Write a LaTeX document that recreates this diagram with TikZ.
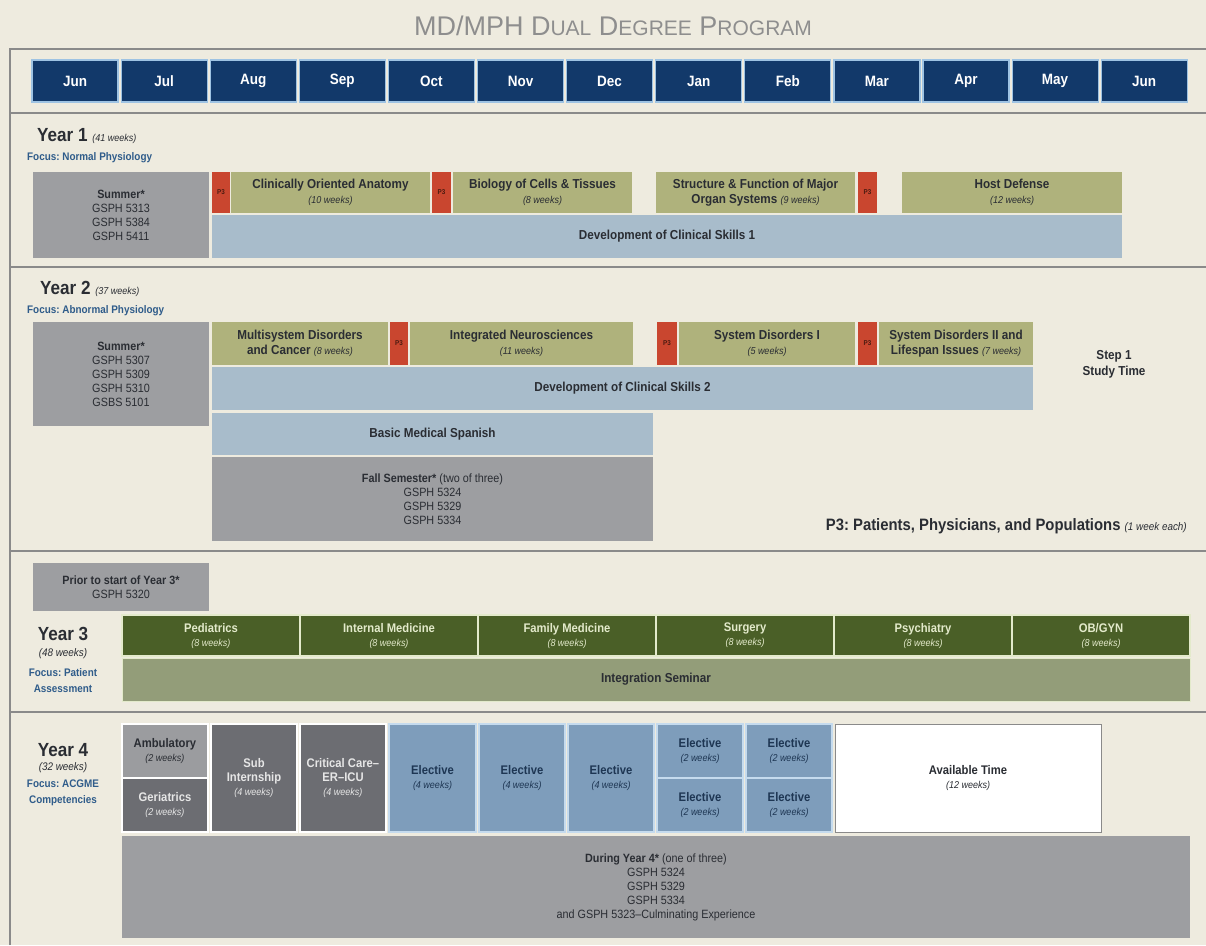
\documentclass[tikz,border=0pt]{standalone}
\usepackage{fontspec}
\setmainfont{Liberation Sans}[FakeStretch=0.9]
\newfontfamily\titlefont{Liberation Sans}
\definecolor{bgc}{HTML}{EEEBDF}
\definecolor{navy}{HTML}{12396A}
\definecolor{mlb}{HTML}{9EC3E3}
\definecolor{gryc}{HTML}{9D9EA1}
\definecolor{txt}{HTML}{2A2D33}
\definecolor{p3red}{HTML}{C9462F}
\definecolor{p3txt}{HTML}{4A1A10}
\definecolor{crsc}{HTML}{AFB27C}
\definecolor{dcsc}{HTML}{A8BCCB}
\definecolor{rotc}{HTML}{4A5F27}
\definecolor{rottxt}{HTML}{E3EACB}
\definecolor{semc}{HTML}{939D79}
\definecolor{dgc}{HTML}{6C6D72}
\definecolor{dgtxt}{HTML}{E6E6E6}
\definecolor{lgc}{HTML}{9B9C9F}
\definecolor{elc}{HTML}{7E9DBB}
\definecolor{eltxt}{HTML}{1E3653}
\definecolor{focusc}{HTML}{2F5C8A}
\definecolor{framec}{HTML}{8A8A8A}
\definecolor{titlec}{HTML}{8E8E8E}
\frenchspacing
\newcommand\fsz[2]{\fontsize{#1}{#2}\selectfont}
\newcommand\wk[1]{{\mdseries\itshape\fsz{10}{11}(#1)}}
\newcommand\smc[1]{{\fsz{21}{24}#1}}
\newcommand\mybox[7]{\node[#6, minimum width={#4pt-#2pt}, minimum height={#5pt-#3pt}] (#1) at ({(#2+#4)/2},{(#3+#5)/2}) {#7};}
\tikzset{
  bx/.style={inner sep=0pt, outer sep=0pt, align=center, text=txt, font=\fsz{13}{15}\bfseries},
  mon/.style={bx, fill=navy, draw=mlb, line width=1.2pt, text=white, font=\fsz{15}{17}\bfseries},
  gbox/.style={bx, fill=gryc, font=\fsz{12}{14}},
  p3box/.style={bx, fill=p3red, text=p3txt, font=\fsz{7}{8}\bfseries},
  crs/.style={bx, fill=crsc},
  dcs/.style={bx, fill=dcsc},
  rot/.style={bx, fill=rotc, draw=rottxt, line width=1.2pt, text=rottxt, font=\fsz{12.5}{14}\bfseries},
  sem/.style={bx, fill=semc, draw=rottxt, line width=1pt},
  dg/.style={bx, fill=dgc, draw=white, line width=1.2pt, text=dgtxt, font=\fsz{12.5}{14}\bfseries},
  lg/.style={bx, fill=lgc, draw=white, line width=1.2pt, font=\fsz{12.5}{14}\bfseries},
  el/.style={bx, fill=elc, draw=mlb!60!white, line width=1.2pt, text=eltxt, font=\fsz{12.5}{14}\bfseries},
  av/.style={bx, fill=white, draw=framec, line width=0.8pt, font=\fsz{12.5}{14}\bfseries},
  frame/.style={draw=framec, line width=1.6pt},
  yr/.style={inner sep=0pt, text=txt, font=\fsz{19}{22}\bfseries},
  foc/.style={inner sep=0pt, text=focusc, font=\fsz{11}{13}\bfseries},
  wkl/.style={inner sep=0pt, text=txt, font=\fsz{11}{13}\itshape},
}
\begin{document}
\begin{tikzpicture}[x=1pt,y=-1pt]
\useasboundingbox (0,0) rectangle (1206,945);
\fill[bgc] (0,0) rectangle (1206,945);
% title
\node[inner sep=0pt, text=titlec, font=\titlefont\fsz{27}{30}] (title) at (613,26)
  {MD/MPH D\smc{UAL} D\smc{EGREE} P\smc{ROGRAM}};
% frame
\draw[frame] (10,945) -- (10,49) -- (1206,49);
\draw[frame] (10,113) -- (1206,113);
\draw[frame] (10,267) -- (1206,267);
\draw[frame] (10,551) -- (1206,551);
\draw[frame] (10,712) -- (1206,712);
% months
\foreach \m [count=\i from 0] in {Jun,Jul,Aug,Sep,Oct,Nov,Dec,Jan,Feb,Mar,Apr,May,Jun}
  \node[mon, minimum width=86pt, minimum height=42pt] (m\i) at ({75+89.1*\i},81) {\m};

% ---------- Year 1
\node[yr, anchor=base west] (y1) at (37,141) {Year 1 {\mdseries\itshape\fsz{10}{12}(41 weeks)}};
\node[foc, anchor=base west] (f1) at (27,160) {Focus: Normal Physiology};
\mybox{s1}{33}{172}{209}{258}{gbox}{\textbf{Summer*}\\GSPH 5313\\GSPH 5384\\GSPH 5411}
\mybox{p1a}{212}{172}{230}{213}{p3box}{P3}
\mybox{ca}{231}{172}{430}{213}{crs}{Clinically Oriented Anatomy\\\wk{10 weeks}}
\mybox{p1b}{432}{172}{451}{213}{p3box}{P3}
\mybox{bct}{453}{172}{632}{213}{crs}{Biology of Cells \& Tissues\\\wk{8 weeks}}
\mybox{sf}{656}{172}{855}{213}{crs}{Structure \& Function of Major\\Organ Systems \wk{9 weeks}}
\mybox{p1c}{858}{172}{877}{213}{p3box}{P3}
\mybox{hd}{902}{172}{1122}{213}{crs}{Host Defense\\\wk{12 weeks}}
\mybox{dcs1}{212}{215}{1122}{258}{dcs}{Development of Clinical Skills 1}

% ---------- Year 2
\node[yr, anchor=base west] (y2) at (40,294) {Year 2 {\mdseries\itshape\fsz{10}{12}(37 weeks)}};
\node[foc, anchor=base west] (f2) at (27,313) {Focus: Abnormal Physiology};
\mybox{s2}{33}{322}{209}{426}{gbox}{\textbf{Summer*}\\GSPH 5307\\GSPH 5309\\GSPH 5310\\GSBS 5101}
\mybox{mdc}{212}{322}{388}{365}{crs}{Multisystem Disorders\\and Cancer \wk{8 weeks}}
\mybox{p2a}{390}{322}{408}{365}{p3box}{P3}
\mybox{ins}{410}{322}{633}{365}{crs}{Integrated Neurosciences\\\wk{11 weeks}}
\mybox{p2b}{657}{322}{677}{365}{p3box}{P3}
\mybox{sd1}{679}{322}{855}{365}{crs}{System Disorders I\\\wk{5 weeks}}
\mybox{p2c}{858}{322}{877}{365}{p3box}{P3}
\mybox{sd2}{879}{322}{1033}{365}{crs}{System Disorders II and\\Lifespan Issues \wk{7 weeks}}
\mybox{dcs2}{212}{367}{1033}{410}{dcs}{Development of Clinical Skills 2}
\mybox{bms}{212}{413}{653}{455}{dcs}{Basic Medical Spanish}
\mybox{fall}{212}{457}{653}{541}{gbox}{\textbf{Fall Semester*} (two of three)\\GSPH 5324\\GSPH 5329\\GSPH 5334}
\node[inner sep=0pt, align=center, text=txt, font=\fsz{13}{16}\bfseries] (step) at (1114,364) {Step 1\\Study Time};
\node[inner sep=0pt, anchor=base east, text=txt, font=\fsz{16.5}{18}\bfseries] (leg) at (1187,530)
  {P3: Patients, Physicians, and Populations {\mdseries\itshape\fsz{11}{12}(1 week each)}};

% ---------- Year 3
\mybox{pre3}{33}{563}{209}{611}{gbox}{\textbf{Prior to start of Year 3*}\\GSPH 5320}
\node[yr, anchor=base] (y3) at (63,640) {Year 3};
\node[wkl, anchor=base] (w3) at (63,656) {(48 weeks)};
\node[foc, anchor=base] (f3a) at (63,676) {Focus: Patient};
\node[foc, anchor=base] (f3b) at (63,692) {Assessment};
\foreach \r [count=\i from 0] in {Pediatrics,Internal Medicine,Family Medicine,Surgery,Psychiatry,OB/GYN}
  \node[rot, minimum width=178pt, minimum height=41pt] (r\i) at ({211+178*\i},635.5) {\r\\\wk{8 weeks}};
\mybox{isem}{122}{658}{1190}{701}{sem}{Integration Seminar}

% ---------- Year 4
\node[yr, anchor=base] (y4) at (63,756) {Year 4};
\node[wkl, anchor=base] (w4) at (63,770) {(32 weeks)};
\node[foc, anchor=base] (f4a) at (63,787) {Focus: ACGME};
\node[foc, anchor=base] (f4b) at (63,803) {Competencies};
\mybox{amb}{122}{724}{208}{778}{lg}{Ambulatory\\\wk{2 weeks}}
\mybox{ger}{122}{778}{208}{832}{dg}{Geriatrics\\\wk{2 weeks}}
\mybox{sub}{211}{724}{297}{832}{dg}{Sub\\Internship\\\wk{4 weeks}}
\mybox{cc}{300}{724}{386}{832}{dg}{Critical Care--\\ER--ICU\\\wk{4 weeks}}
\mybox{e1}{389}{724}{476}{832}{el}{Elective\\\wk{4 weeks}}
\mybox{e2}{479}{724}{565}{832}{el}{Elective\\\wk{4 weeks}}
\mybox{e3}{568}{724}{654}{832}{el}{Elective\\\wk{4 weeks}}
\mybox{e4}{657}{724}{743}{778}{el}{Elective\\\wk{2 weeks}}
\mybox{e5}{746}{724}{832}{778}{el}{Elective\\\wk{2 weeks}}
\mybox{e6}{657}{778}{743}{832}{el}{Elective\\\wk{2 weeks}}
\mybox{e7}{746}{778}{832}{832}{el}{Elective\\\wk{2 weeks}}
\mybox{avt}{835}{724}{1101}{832}{av}{Available Time\\\wk{12 weeks}}
\mybox{dur}{122}{836}{1190}{938}{gbox}{\textbf{During Year 4*} (one of three)\\GSPH 5324\\GSPH 5329\\GSPH 5334\\and GSPH 5323--Culminating Experience}
\end{tikzpicture}
\end{document}
